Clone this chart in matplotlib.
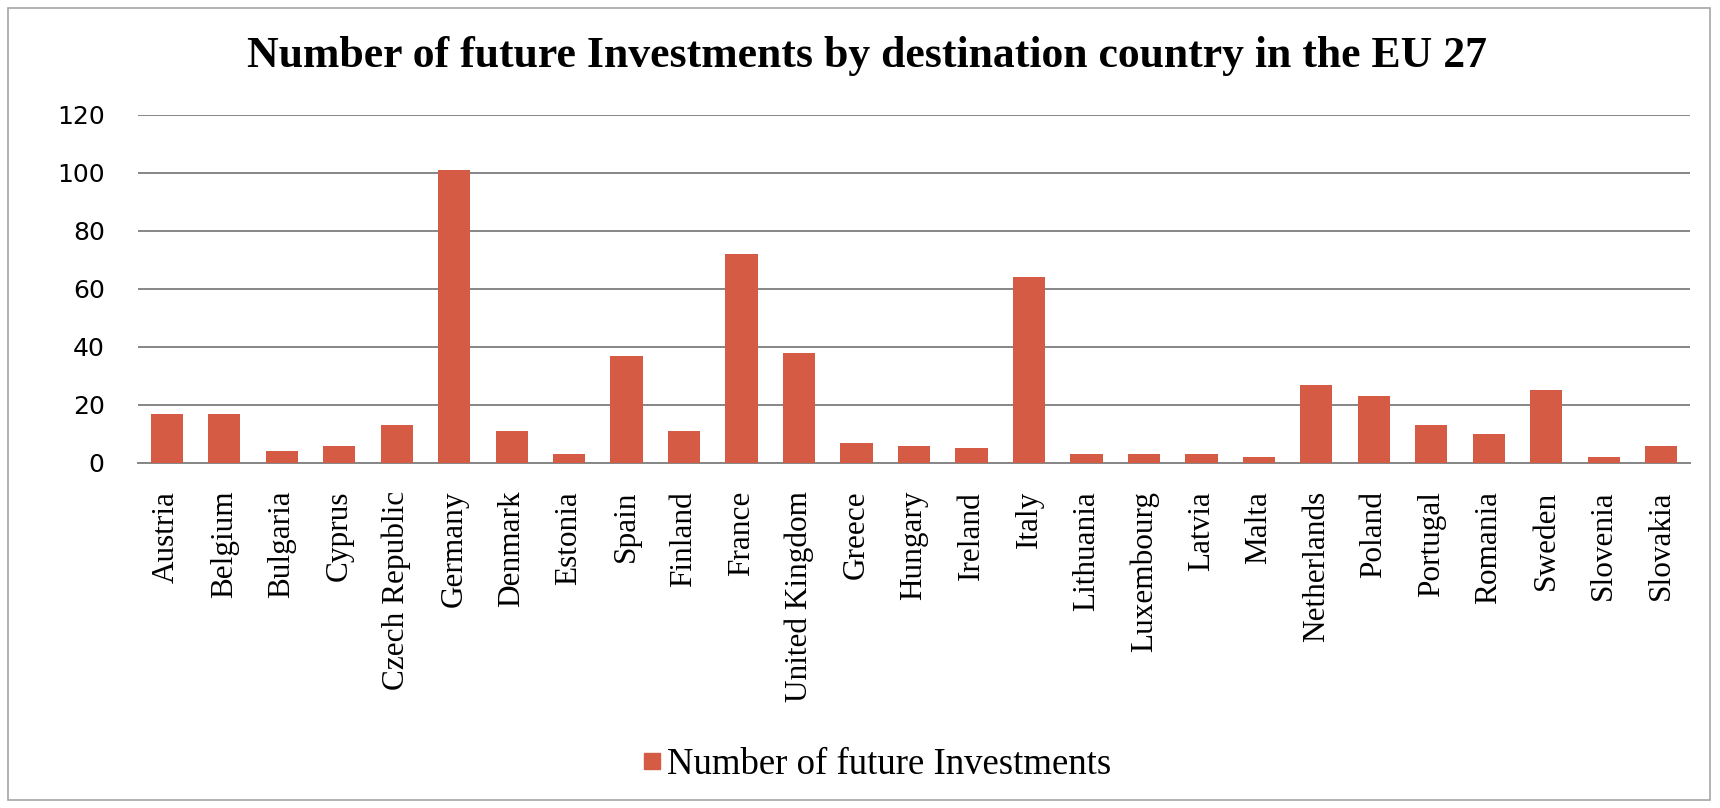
import matplotlib
matplotlib.use("Agg")
import matplotlib.pyplot as plt
from matplotlib.lines import Line2D
from matplotlib.patches import Rectangle

countries = ["Austria", "Belgium", "Bulgaria", "Cyprus", "Czech Republic", "Germany",
             "Denmark", "Estonia", "Spain", "Finland", "France", "United Kingdom",
             "Greece", "Hungary", "Ireland", "Italy", "Lithuania", "Luxembourg",
             "Latvia", "Malta", "Netherlands", "Poland", "Portugal", "Romania",
             "Sweden", "Slovenia", "Slovakia"]
investments = [17, 17, 4, 6, 13, 101, 11, 3, 37, 11, 72, 38, 7, 6, 5, 64,
               3, 3, 3, 2, 27, 23, 13, 10, 25, 2, 6]
yticks = [0, 20, 40, 60, 80, 100, 120]

bar_color = "#D55B45"
grid_color = "#868686"
W, H = 1720, 808

fig = plt.figure(figsize=(W / 100, H / 100), dpi=100)
fig.patch.set_facecolor("white")

# outer chart frame
fig.patches.append(Rectangle((8 / W, 8 / H), 1 - 18 / W, 1 - 16 / H,
                             transform=fig.transFigure, fill=False,
                             edgecolor="#A6A6A6", linewidth=1.2))

ax = fig.add_axes([138 / W, 1 - 463 / H, (1690 - 138) / W, (463 - 115) / H])
x = range(len(countries))
ax.bar(x, investments, width=0.56, color=bar_color, zorder=3)

ax.set_xlim(-0.5, len(countries) - 0.5)
ax.set_ylim(0, 120)
ax.set_yticks(yticks)
ax.set_yticklabels([str(v) for v in yticks], fontsize=18, family="DejaVu Sans")
ax.set_xticks(list(x))
ax.set_xticklabels(countries, rotation=90, fontsize=22.5, family="Liberation Serif",
                   va="top", ha="center")
ax.tick_params(axis="both", length=0)
ax.tick_params(axis="y", pad=24)
ax.tick_params(axis="x", pad=20)
ax.grid(axis="y", color=grid_color, linewidth=1.4, zorder=0)
for side in ["top", "right", "left"]:
    ax.spines[side].set_visible(False)
ax.spines["bottom"].set_color(grid_color)
ax.spines["bottom"].set_linewidth(1.4)

fig.text(867 / W, 1 - 67 / H,
         "Number of future Investments by destination country in the EU 27",
         ha="center", va="baseline", fontsize=31.5, fontweight="bold",
         family="Liberation Serif")

handle = Line2D([], [], marker="s", linestyle="none", markersize=12,
                color=bar_color, label="Number of future Investments")
fig.legend(handles=[handle], loc="center", bbox_to_anchor=(876 / W, 1 - 765 / H),
           frameon=False, prop={"family": "Liberation Serif", "size": 26.5},
           handletextpad=0.1, handlelength=0.6)

fig.savefig("out.png", dpi=100)
